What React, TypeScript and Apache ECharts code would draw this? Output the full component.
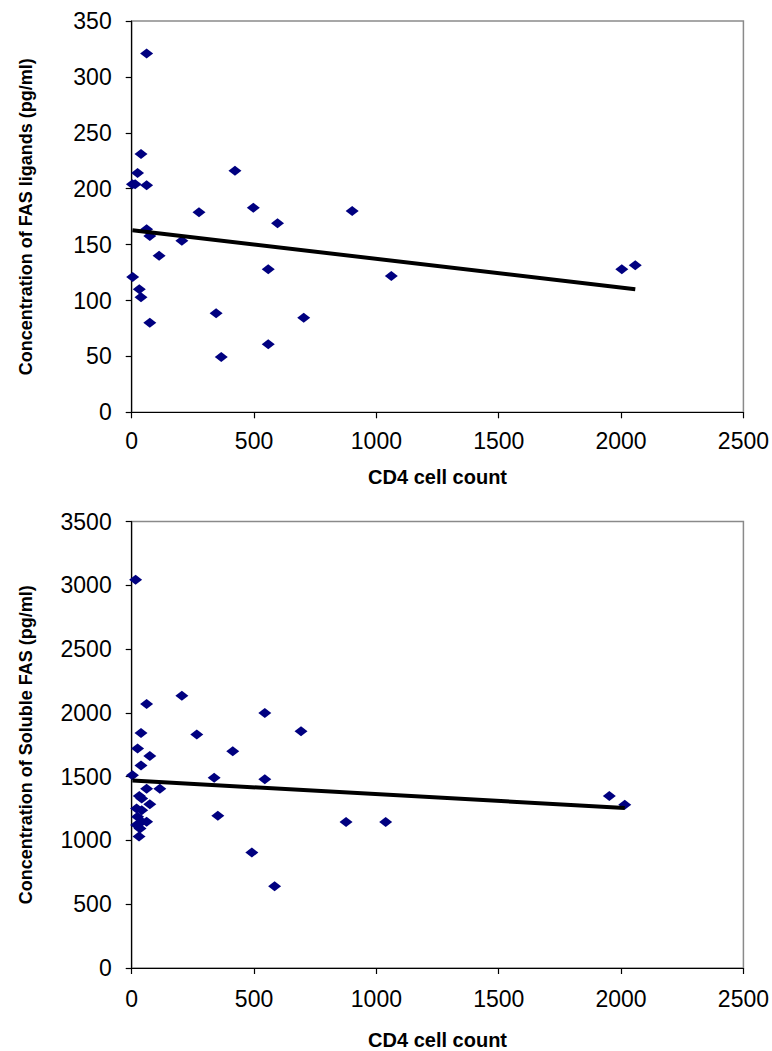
import React, { useEffect, useRef } from "react";
import * as echarts from "echarts";

// Top chart: CD4 count vs FAS ligands
const fasLigandCD4 = [61, 38, 24, 3, 14, 61, 422, 275, 497, 596, 901, 558, 1061, 345, 703, 558, 366, 61, 74, 205, 112, 4, 31, 38, 74, 2003, 2058];
const fasLigandConc = [321, 231, 214, 204, 204, 203, 216, 179, 183, 169, 180, 128, 122, 88.6, 84.6, 60.8, 49.5, 163.7, 157.7, 153.5, 140, 121, 110, 103, 80, 128, 131.5];
const fasLigandTrend = { intercept: 163, slope: -0.02575 };

// Bottom chart: CD4 count vs soluble FAS
const solFasCD4 = [16, 205, 61, 544, 692, 38, 266, 24, 74, 413, 38, 3, 337, 544, 61, 115, 31, 41, 74, 20, 41, 352, 24, 61, 41, 20, 34, 30, 876, 1038, 491, 584, 1952, 2015];
const solFasConc = [3044, 2134, 2069, 1999, 1856, 1843, 1830, 1721, 1661, 1699, 1588, 1510, 1492, 1480, 1406, 1406, 1349, 1328, 1284, 1250, 1237, 1193, 1186, 1147, 1147, 1120, 1094, 1030, 1144, 1144, 905, 640, 1349, 1279];
const solFasTrend = { intercept: 1470, slope: -0.1067 };

const xTicks = { min: 0, max: 2500, interval: 500 };
const yTopTicks = { min: 0, max: 350, interval: 50 };
const yBottomTicks = { min: 0, max: 3500, interval: 500 };

const xTitle = "CD4 cell count";
const yTopTitle = "Concentration of FAS ligands (pg/ml)";
const yBottomTitle = "Concentration of Soluble FAS (pg/ml)";

const FONT = "'Liberation Sans', Arial, Helvetica, sans-serif";

function pairs(xs: number[], ys: number[]) {
  return xs.map((x, i) => [x, ys[i]]);
}

function trendPoints(xs: number[], t: { intercept: number; slope: number }) {
  const x0 = Math.min(...xs);
  const x1 = Math.max(...xs);
  return [
    [x0, t.intercept + t.slope * x0],
    [x1, t.intercept + t.slope * x1],
  ];
}

export default function App() {
  const ref = useRef<HTMLDivElement>(null);
  useEffect(() => {
    if (!ref.current) return;
    const chart = echarts.init(ref.current, undefined, { renderer: "svg" });
    const axisLine = { show: true, onZero: false, lineStyle: { color: "#000", width: 1.2 } };
    const axisTick = { show: true, inside: false, length: 6, lineStyle: { color: "#000", width: 1.2 } };
    const plain = (v: number) => String(v);
    const mkX = (gridIndex: number, labelMargin: number, nameGap: number) => ({
      type: "value",
      gridIndex,
      min: xTicks.min,
      max: xTicks.max,
      interval: xTicks.interval,
      axisLine,
      axisTick,
      splitLine: { show: false },
      axisLabel: { color: "#000", fontSize: 23, fontFamily: FONT, margin: labelMargin, formatter: plain },
      name: xTitle,
      nameLocation: "middle",
      nameGap,
      nameTextStyle: { color: "#000", fontSize: 20, fontWeight: "bold", fontFamily: FONT },
    });
    const mkY = (gridIndex: number, t: { min: number; max: number; interval: number }, name: string) => ({
      type: "value",
      gridIndex,
      min: t.min,
      max: t.max,
      interval: t.interval,
      axisLine,
      axisTick,
      splitLine: { show: false },
      axisLabel: { color: "#000", fontSize: 23, fontFamily: FONT, margin: 20, formatter: plain },
      name,
      nameLocation: "middle",
      nameGap: 97,
      nameRotate: 90,
      nameTextStyle: { color: "#000", fontSize: 18, fontWeight: "bold", fontFamily: FONT },
    });
    const scatterStyle = {
      type: "scatter",
      symbol: "diamond",
      symbolSize: [13, 10],
      itemStyle: { color: "#000080", opacity: 1 },
      z: 3,
    };
    const lineStyle = {
      type: "line",
      symbol: "none",
      lineStyle: { color: "#000", width: 4 },
      z: 4,
    };
    chart.setOption({
      animation: false,
      backgroundColor: "#fff",
      grid: [
        { left: 131.7, top: 21, right: 23.7, bottom: 638.7, show: true, borderColor: "#8a8a8a", borderWidth: 1.5, backgroundColor: "#fff" },
        { left: 131.7, top: 521.5, right: 23.7, bottom: 80.7, show: true, borderColor: "#8a8a8a", borderWidth: 1.5, backgroundColor: "#fff" },
      ],
      xAxis: [mkX(0, 17, 55), mkX(1, 19, 62)],
      yAxis: [mkY(0, yTopTicks, yTopTitle), mkY(1, yBottomTicks, yBottomTitle)],
      series: [
        { ...scatterStyle, xAxisIndex: 0, yAxisIndex: 0, data: pairs(fasLigandCD4, fasLigandConc) },
        { ...lineStyle, xAxisIndex: 0, yAxisIndex: 0, data: trendPoints(fasLigandCD4, fasLigandTrend) },
        { ...scatterStyle, xAxisIndex: 1, yAxisIndex: 1, data: pairs(solFasCD4, solFasConc) },
        { ...lineStyle, xAxisIndex: 1, yAxisIndex: 1, data: trendPoints(solFasCD4, solFasTrend) },
      ],
    });
    return () => chart.dispose();
  }, []);
  return (
    <div
      ref={ref}
      style={{ position: "absolute", left: 0, top: 0, width: 772, height: 1051, background: "#fff" }}
    />
  );
}
